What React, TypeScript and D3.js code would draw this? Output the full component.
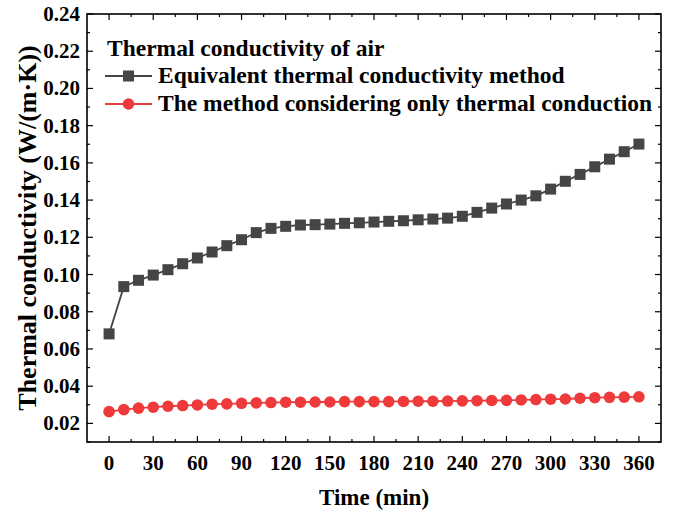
import React from 'react';
import * as d3 from 'd3';

const times = d3.range(0, 361, 10);

// Equivalent thermal conductivity method
const equivalentValues = [
  0.0681, 0.0935, 0.0969, 0.0997, 0.1026, 0.1058, 0.1089, 0.1121, 0.1155, 0.1187,
  0.1225, 0.1248, 0.1259, 0.1266, 0.1268, 0.1271, 0.1275, 0.1278, 0.1282, 0.1286,
  0.1289, 0.1294, 0.1298, 0.1303, 0.1313, 0.1334, 0.1357, 0.1379, 0.14, 0.1423,
  0.1459, 0.1501, 0.1538, 0.1579, 0.162, 0.166, 0.1701,
];

// The method considering only thermal conduction
const conductionValues = [
  0.0263, 0.0274, 0.0282, 0.0287, 0.0292, 0.0296, 0.0299, 0.0303, 0.0305, 0.0308,
  0.031, 0.0312, 0.0314, 0.0314, 0.0315, 0.0315, 0.0317, 0.0317, 0.0317, 0.0317,
  0.0318, 0.0319, 0.0319, 0.032, 0.0321, 0.0322, 0.0323, 0.0324, 0.0326, 0.0328,
  0.033, 0.0331, 0.0335, 0.0338, 0.034, 0.0341, 0.0343,
];

const xTicks = d3.range(0, 361, 30);
const yTicks = [0.02, 0.04, 0.06, 0.08, 0.1, 0.12, 0.14, 0.16, 0.18, 0.2, 0.22, 0.24];

const legendTitle = 'Thermal conductivity of air';
const seriesNames = [
  'Equivalent thermal conductivity method',
  'The method considering only thermal conduction',
];

const font = '"Liberation Serif", "Times New Roman", serif';
const gray = '#454545';
const red = '#ee3a3a';

export default function App() {
  const W = 673;
  const H = 513;
  const left = 87;
  const right = 661;
  const top = 14;
  const bottom = 442;

  const x = d3.scaleLinear().domain([-15, 375]).range([left, right]);
  const y = d3.scaleLinear().domain([0.01, 0.24]).range([bottom, top]);

  const xMinor = d3.range(-15, 376, 15).filter((d) => d % 30 !== 0 && d > -15 && d < 375);
  const yMinor = d3.range(0.01, 0.241, 0.01).map((d) => +d.toFixed(2)).filter((d) => Math.round(d * 100) % 2 === 1);

  const line = d3
    .line<number>()
    .x((_, i) => x(times[i]))
    .y((d) => y(d));

  const major = 6;
  const minor = 3;

  return (
    <svg width={W} height={H} style={{ position: 'absolute', left: 0, top: 0, background: '#fff' }} fontFamily={font}>
      <g stroke="#000" strokeWidth={1.2}>
        {xTicks.map((t) => (
          <g key={'xt' + t}>
            <line x1={x(t)} x2={x(t)} y1={bottom} y2={bottom - major} />
            <line x1={x(t)} x2={x(t)} y1={top} y2={top + major} />
          </g>
        ))}
        {xMinor.map((t) => (
          <g key={'xm' + t}>
            <line x1={x(t)} x2={x(t)} y1={bottom} y2={bottom - minor} />
            <line x1={x(t)} x2={x(t)} y1={top} y2={top + minor} />
          </g>
        ))}
        {yTicks.map((t) => (
          <g key={'yt' + t}>
            <line x1={left} x2={left + major} y1={y(t)} y2={y(t)} />
            <line x1={right} x2={right - major} y1={y(t)} y2={y(t)} />
          </g>
        ))}
        {yMinor.map((t) => (
          <g key={'ym' + t}>
            <line x1={left} x2={left + minor} y1={y(t)} y2={y(t)} />
            <line x1={right} x2={right - minor} y1={y(t)} y2={y(t)} />
          </g>
        ))}
      </g>
      <rect x={left} y={top} width={right - left} height={bottom - top} fill="none" stroke="#000" strokeWidth={1.6} />

      {xTicks.map((t) => (
        <text key={'xl' + t} x={x(t)} y={470} textAnchor="middle" fontSize={21} fontWeight="bold">
          {t}
        </text>
      ))}
      {yTicks.map((t) => (
        <text key={'yl' + t} x={left - 7} y={y(t) + 7} textAnchor="end" fontSize={21} fontWeight="bold">
          {t.toFixed(2)}
        </text>
      ))}

      <text x={(left + right) / 2} y={505} textAnchor="middle" fontSize={23} fontWeight="bold">
        Time (min)
      </text>
      <text
        transform={`translate(36, ${(top + bottom) / 2}) rotate(-90)`}
        textAnchor="middle"
        fontSize={26}
        fontWeight="bold"
      >
        Thermal conductivity (W/(m·K))
      </text>

      <path d={line(equivalentValues) ?? ''} fill="none" stroke={gray} strokeWidth={1.8} />
      {equivalentValues.map((v, i) => (
        <rect key={'s' + i} x={x(times[i]) - 5.5} y={y(v) - 5.5} width={11} height={11} fill={gray} />
      ))}
      <path d={line(conductionValues) ?? ''} fill="none" stroke={red} strokeWidth={1.8} />
      {conductionValues.map((v, i) => (
        <circle key={'c' + i} cx={x(times[i])} cy={y(v)} r={5.8} fill={red} />
      ))}

      <g fontSize={23.5} fontWeight="bold">
        <text x={107} y={56}>{legendTitle}</text>
        <line x1={105} x2={152} y1={76} y2={76} stroke={gray} strokeWidth={1.8} />
        <rect x={123} y={70.5} width={11} height={11} fill={gray} />
        <text x={158} y={83}>{seriesNames[0]}</text>
        <line x1={105} x2={152} y1={104} y2={104} stroke={red} strokeWidth={1.8} />
        <circle cx={128.5} cy={104} r={5.8} fill={red} />
        <text x={158} y={111}>{seriesNames[1]}</text>
      </g>
    </svg>
  );
}
